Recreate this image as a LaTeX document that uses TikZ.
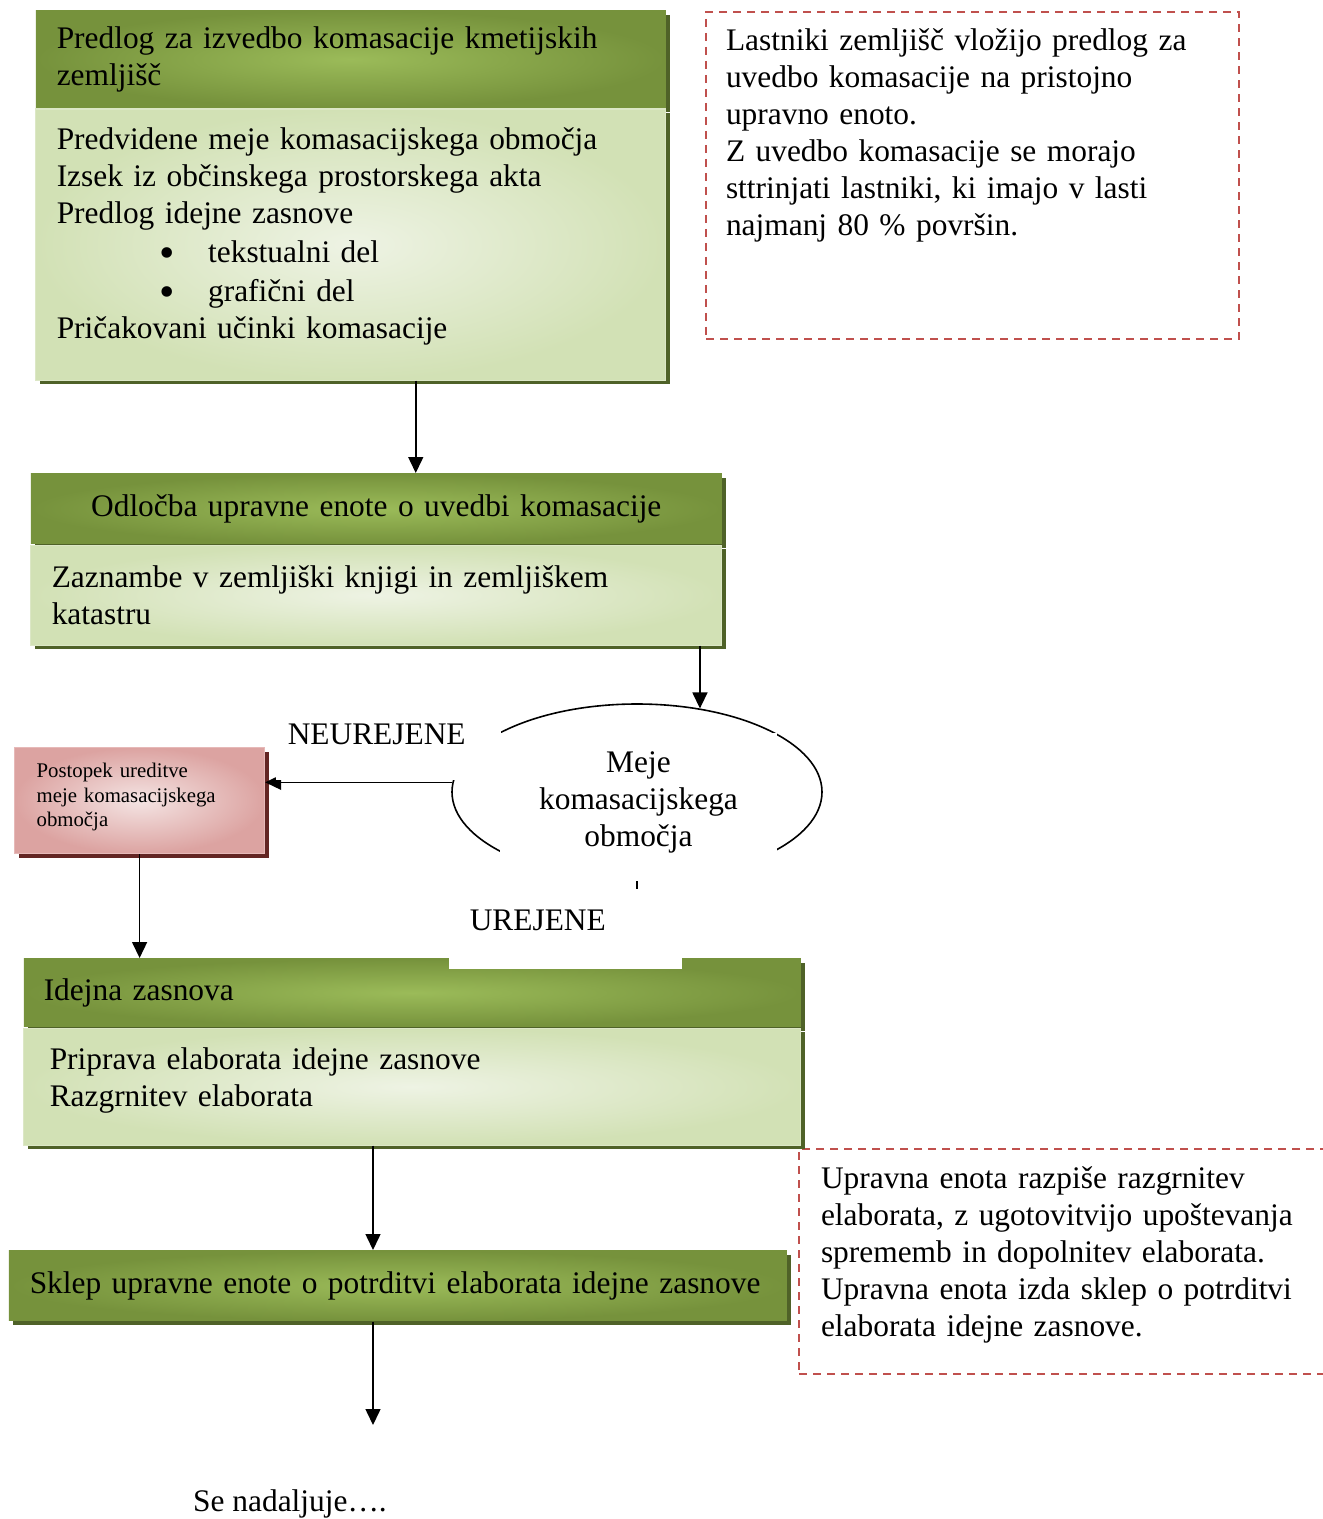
\documentclass[tikz,border=0pt]{standalone}
\usepackage{fontspec}
\setmainfont{Liberation Serif}
\usetikzlibrary{positioning,shapes.geometric,shadows,arrows.meta}

\definecolor{oliveDark}{HTML}{76923C}
\definecolor{oliveMid}{HTML}{9BBB59}
\definecolor{oliveShadow}{HTML}{4F6228}
\definecolor{oliveLight}{HTML}{EEF3E4}
\definecolor{olivePale}{HTML}{D2E1B5}
\definecolor{oliveEdge}{HTML}{DCE7C6}
\definecolor{roseDark}{HTML}{DCA3A1}
\definecolor{roseLight}{HTML}{F4E4E3}
\definecolor{roseEdge}{HTML}{E6B9B8}
\definecolor{roseShadow}{HTML}{632523}
\definecolor{dashRed}{HTML}{C0504D}

\newcommand\bodyfont{\fontsize{15.7pt}{18.5pt}\selectfont}
\newcommand\smallboxfont{\fontsize{10.4pt}{12.25pt}\selectfont}
\newcommand\padbottom[1]{\rule[-#1]{0pt}{#1}}
\newcommand\bigbullet{\smash{\raisebox{-0.17em}{\scalebox{1.4}{\textbullet}}}}

\tikzset{
  box/.style={rectangle, inner xsep=10.5pt, inner ysep=0pt, align=left, font=\bodyfont},
  headbox/.style={box, inner color=oliveMid, outer color=oliveDark,
    general shadow={fill=oliveShadow, shadow xshift=2pt, shadow yshift=-2pt}},
  bodybox/.style={box, draw=oliveEdge, line width=0.6pt, inner color=oliveLight, outer color=olivePale,
    general shadow={fill=oliveShadow, shadow xshift=2pt, shadow yshift=-2pt}},
  rosebox/.style={box, font=\smallboxfont, inner xsep=11pt, draw=roseEdge, line width=0.6pt,
    inner color=roseLight, outer color=roseDark,
    general shadow={fill=roseShadow, shadow xshift=2pt, shadow yshift=-2pt}},
  notebox/.style={box, inner xsep=10pt, draw=dashRed, line width=1pt, dash pattern=on 4pt off 3pt},
  cover/.style={box, fill=white}
}

\begin{document}
\begin{tikzpicture}[x=0.5pt,y=-0.5pt,->,>={Triangle[length=8pt,width=7.5pt]},line width=0.75pt]

\useasboundingbox (0,0) rectangle (1322,1519);

%Predlog
\node[headbox, anchor=north west, text width=294pt, minimum height=48.5pt] (predhead) at (35,10)
  {Predlog za izvedbo komasacije kmetijskih\\zemljišč};
\node[bodybox, text width=294pt, minimum height=135.5pt] (predbody) [below=0pt of predhead]
  {Predvidene meje komasacijskega območja\\
   Izsek iz občinskega prostorskega akta\\
   Predlog idejne zasnove\\[1pt]
   \hspace*{51.5pt}\bigbullet\hspace*{16.5pt}tekstualni del\\[1pt]
   \hspace*{51.5pt}\bigbullet\hspace*{16.5pt}grafični del\\
   Pričakovani učinki komasacije\padbottom{11.5pt}};

%Odločba
\node[headbox, anchor=north west, text width=324.5pt, minimum height=35pt, align=center] (odlhead) at (30,473)
  {Odločba upravne enote o uvedbi komasacije};
\node[bodybox, text width=324.5pt, minimum height=50pt] (odlbody) [below=0pt of odlhead]
  {Zaznambe v zemljiški knjigi in zemljiškem\\katastru};

%Opombe
\node[notebox, anchor=north west, text width=246.5pt, minimum height=163.5pt] (lastnote) at (705,11)
  {Lastniki zemljišč vložijo predlog za\\
   uvedbo komasacije na pristojno\\
   upravno enoto.\\
   Z uvedbo komasacije se morajo\\
   sttrinjati lastniki, ki imajo v lasti\\
   najmanj 80 \% površin.\padbottom{43pt}};
\node[notebox, anchor=north west, text width=250pt, inner xsep=11pt, minimum height=112.5pt] (razgrnote) at (798,1148)
  {Upravna enota razpiše razgrnitev\\
   elaborata, z ugotovitvijo upoštevanja\\
   sprememb in dopolnitev elaborata.\\
   Upravna enota izda sklep o potrditvi\\
   elaborata idejne zasnove.\padbottom{10pt}};

%Ureditev meje
\node[rosebox, anchor=north west, text width=103pt, minimum height=53pt] (uredi) at (14,747)
  {Postopek ureditve\\meje komasacijskega\\območja\padbottom{5.5pt}};

%Idejna zasnova
\node[headbox, anchor=north west, text width=368.5pt, inner xsep=10pt, minimum height=34pt] (idejhead) at (23,958)
  {Idejna zasnova};
\node[bodybox, text width=362.5pt, inner xsep=13pt, minimum height=58.5pt] (idejbody) [below=0pt of idejhead]
  {Priprava elaborata idejne zasnove\\Razgrnitev elaborata\padbottom{9.5pt}};

%Sklep
\node[headbox, anchor=north west, text width=368pt, minimum height=35pt] (sklep) at (8,1250)
  {Sklep upravne enote o potrditvi elaborata idejne zasnove};

%Meje
\node[draw, ellipse, minimum width=185pt, minimum height=88pt, inner sep=0pt, line width=0.8pt] (meje) at (637,792) {};

\coordinate (predout) at ([xshift=32.5pt]predbody.south);
\coordinate (dalje) at (373,1425);

%Povezave
\draw (predout) -- (predout |- odlhead.north);
\draw (odlbody.south -| meje.53) -- (meje.53);
\draw (meje.177) -- (meje.177 -| uredi.east);
\draw (uredi.south) -- (uredi.south |- idejhead.north);
\draw (meje.south) -- (meje.south |- idejhead.north);
\draw (idejbody.south -| dalje) -- (sklep.north -| dalje);
\draw (sklep.south -| dalje) -- (dalje);

%Napisi
\node[cover, anchor=north west, text width=100.5pt, inner xsep=6pt, minimum height=37pt] (neurejene) at (275,705)
  {NEUREJENE\padbottom{9pt}};
\node[cover, align=center, text width=138.5pt, inner xsep=0pt, minimum height=74pt] (mejetext) at (638.5,807)
  {Meje\\komasacijskega\\območja\padbottom{8pt}};
\node[cover, anchor=north west, text width=95.5pt, minimum height=40pt] (urejene) at (448,888)
  {UREJENE\padbottom{9pt}};

\node[font=\bodyfont] (nadaljuje) at (290,1504) {Se nadaljuje….};

\end{tikzpicture}
\end{document}
